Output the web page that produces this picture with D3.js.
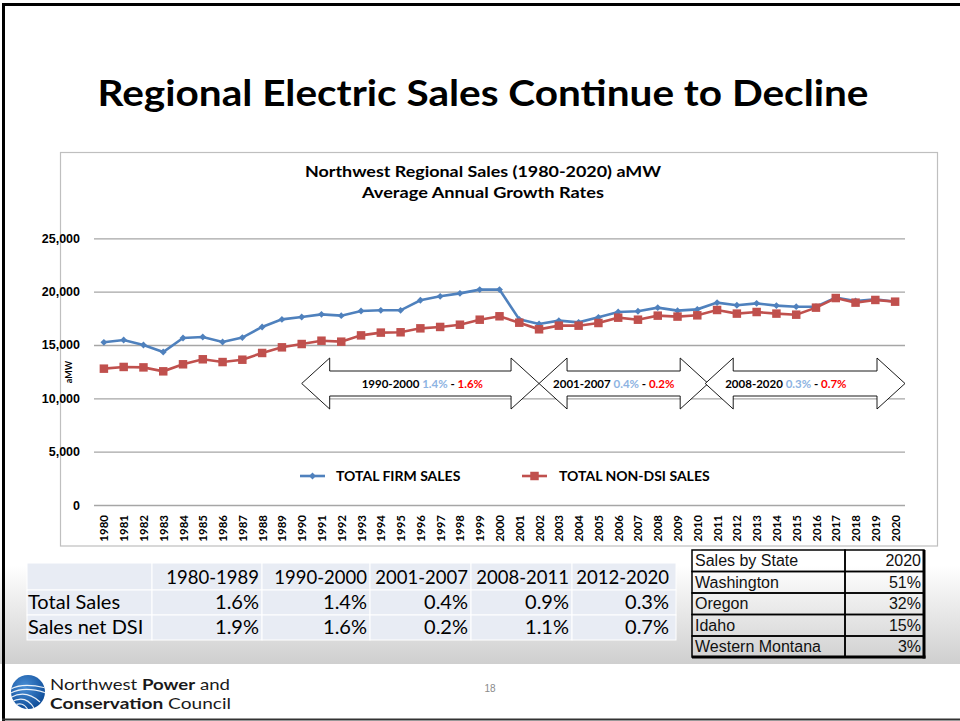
<!DOCTYPE html>
<html>
<head>
<meta charset="utf-8">
<script src="https://cdn.jsdelivr.net/npm/d3@7"></script>
<style>
  body { margin: 0; background: #fff; }
  svg { display: block; }
</style>
</head>
<body>
<div id="slide"></div>
<script>
// ---- data ----
var years = ["1980","1981","1982","1983","1984","1985","1986","1987","1988","1989",
             "1990","1991","1992","1993","1994","1995","1996","1997","1998","1999",
             "2000","2001","2002","2003","2004","2005","2006","2007","2008","2009",
             "2010","2011","2012","2013","2014","2015","2016","2017","2018","2019","2020"];

var firmSales = [15250,15470,15000,14340,15650,15750,15280,15690,16690,17400,
                 17620,17870,17750,18190,18250,18250,19190,19560,19840,20190,
                 20190,17400,16970,17280,17120,17590,18090,18160,18500,18220,
                 18340,18970,18720,18900,18690,18590,18590,19440,19120,19280,19060];

var nonDsiSales = [12780,12940,12900,12530,13190,13660,13400,13620,14250,14780,
                   15090,15400,15310,15900,16160,16190,16560,16690,16900,17370,
                   17690,17090,16470,16810,16810,17060,17560,17370,17750,17660,
                   17780,18280,17940,18090,17940,17840,18500,19400,18970,19220,19060];

var yTicks = [0, 5000, 10000, 15000, 20000, 25000];
var seriesNames = ["TOTAL FIRM SALES", "TOTAL NON-DSI SALES"];

// growth-rate arrows
var periodLabels = ["1990-2000", "2001-2007", "2008-2020"];
var periodFirm = ["1.4%", "0.4%", "0.3%"];
var periodNet = ["1.6%", "0.2%", "0.7%"];
var periodFrom = [1990, 2002, 2010.4];
var periodTo = [2002, 2010.55, 2020.5];

// bottom-left table
var growthCols = ["1980-1989", "1990-2000", "2001-2007", "2008-2011", "2012-2020"];
var growthRows = ["Total Sales", "Sales net DSI"];
var totalGrowth = ["1.6%", "1.4%", "0.4%", "0.9%", "0.3%"];
var netGrowth = ["1.9%", "1.6%", "0.2%", "1.1%", "0.7%"];

// bottom-right table
var stateHeader = ["Sales by State", "2020"];
var states = ["Washington", "Oregon", "Idaho", "Western Montana"];
var stateShare = ["51%", "32%", "15%", "3%"];

// ---- layout ----
var W = 960, H = 721;
var blue = "#4F81BD", red = "#C0504D";
var calibri = "Lato, 'Open Sans', sans-serif";
var arial = "'Liberation Sans', Arial, sans-serif";

var svg = d3.select("#slide").append("svg")
    .attr("width", W)
    .attr("height", H);

var defs = svg.append("defs");
var bg = defs.append("linearGradient").attr("id", "bottomFade")
    .attr("x1", 0).attr("y1", 0).attr("x2", 0).attr("y2", 1);
bg.append("stop").attr("offset", "0%").attr("stop-color", "#ffffff");
bg.append("stop").attr("offset", "100%").attr("stop-color", "#cfcfcf");

var logoGrad = defs.append("radialGradient").attr("id", "logoGrad")
    .attr("cx", "40%").attr("cy", "35%").attr("r", "70%");
logoGrad.append("stop").attr("offset", "0%").attr("stop-color", "#4a8fd6");
logoGrad.append("stop").attr("offset", "100%").attr("stop-color", "#0c4a96");

defs.append("clipPath").attr("id", "logoClip")
  .append("circle").attr("cx", 28).attr("cy", 692).attr("r", 17);

// slide background
svg.append("rect").attr("width", W).attr("height", H).attr("fill", "#fff");
svg.append("rect")
    .attr("x", 0).attr("y", 565).attr("width", W).attr("height", 99)
    .attr("fill", "url(#bottomFade)");

// slide title
svg.append("text")
    .attr("x", 483).attr("y", 106)
    .attr("text-anchor", "middle")
    .attr("textLength", 771).attr("lengthAdjust", "spacingAndGlyphs")
    .style("font-family", calibri).style("font-weight", 700).style("font-size", "36px")
    .text("Regional Electric Sales Continue to Decline");

// chart frame
svg.append("rect")
    .attr("x", 60.5).attr("y", 152.5).attr("width", 877).attr("height", 393.5)
    .attr("fill", "#fff").attr("stroke", "#bfbfbf").attr("stroke-width", 1.2);

svg.append("text")
    .attr("x", 483).attr("y", 177).attr("text-anchor", "middle")
    .attr("textLength", 356).attr("lengthAdjust", "spacingAndGlyphs")
    .style("font-family", calibri).style("font-weight", 700).style("font-size", "15px")
    .text("Northwest Regional Sales (1980-2020) aMW");
svg.append("text")
    .attr("x", 483).attr("y", 198).attr("text-anchor", "middle")
    .attr("textLength", 242).attr("lengthAdjust", "spacingAndGlyphs")
    .style("font-family", calibri).style("font-weight", 700).style("font-size", "15px")
    .text("Average Annual Growth Rates");

// scales
var x = d3.scalePoint().domain(years).range([94, 905]).padding(0.5);
var xYear = d3.scaleLinear()
    .domain([+years[0], +years[years.length - 1]])
    .range([x(years[0]), x(years[years.length - 1])]);
var y = d3.scaleLinear().domain([0, 25000]).range([505, 238.3]);

// y axis + gridlines
var gy = svg.append("g")
    .attr("transform", "translate(94,0)")
    .call(d3.axisLeft(y).tickValues(yTicks).tickSize(-811).tickFormat(d3.format(",")));
gy.select(".domain").remove();
gy.selectAll(".tick line").attr("stroke", "#a6a6a6").attr("stroke-width", 1.3);
gy.selectAll(".tick text")
    .attr("x", -14)
    .style("font-family", arial).style("font-weight", 700).style("font-size", "12.5px")
    .attr("fill", "#000");

svg.append("text")
    .attr("transform", "translate(72,372) rotate(-90)")
    .attr("text-anchor", "middle")
    .style("font-family", calibri).style("font-weight", 700).style("font-size", "9px")
    .text("aMW");

// x axis (years, rotated)
var gx = svg.append("g")
    .attr("transform", "translate(0,505)")
    .call(d3.axisBottom(x).tickSize(0));
gx.select(".domain").remove();
gx.selectAll(".tick text")
    .attr("transform", "rotate(-90)")
    .attr("x", -10).attr("y", 0).attr("dy", "0.35em")
    .attr("text-anchor", "end")
    .style("font-family", calibri).style("font-weight", 700).style("font-size", "11.5px")
    .attr("fill", "#000");

// growth arrows
var headLen = 28, shaftHalf = 12.5, headHalf = 25.5, yc = 383.5;
var arrowTextDx = [60, 14, 20];
function arrowPath(a, b) {
  return "M" + a + "," + yc +
    "L" + (a + headLen) + "," + (yc - headHalf) +
    "L" + (a + headLen) + "," + (yc - shaftHalf) +
    "L" + (b - headLen) + "," + (yc - shaftHalf) +
    "L" + (b - headLen) + "," + (yc - headHalf) +
    "L" + b + "," + yc +
    "L" + (b - headLen) + "," + (yc + headHalf) +
    "L" + (b - headLen) + "," + (yc + shaftHalf) +
    "L" + (a + headLen) + "," + (yc + shaftHalf) +
    "L" + (a + headLen) + "," + (yc + headHalf) + "Z";
}
var arrows = svg.append("g").selectAll("g")
  .data(periodLabels)
  .enter().append("g");
arrows.append("path")
    .attr("d", function(d, i) { return arrowPath(xYear(periodFrom[i]), xYear(periodTo[i])); })
    .attr("fill", "#fff").attr("stroke", "#000").attr("stroke-width", 0.9);
var at = arrows.append("text")
    .attr("x", function(d, i) { return xYear(periodFrom[i]) + arrowTextDx[i]; })
    .attr("y", yc + 4)
    .style("font-family", calibri).style("font-weight", 700).style("font-size", "11.5px");
at.append("tspan").attr("fill", "#000").text(function(d) { return d + " "; });
at.append("tspan").attr("fill", "#8DB3E2").text(function(d, i) { return periodFirm[i]; });
at.append("tspan").attr("fill", "#000").text(" - ");
at.append("tspan").attr("fill", "#FF0000").text(function(d, i) { return periodNet[i]; });

// lines
var line = d3.line()
    .x(function(d, i) { return x(years[i]); })
    .y(function(d) { return y(d); });

svg.append("path").datum(firmSales)
    .attr("d", line).attr("fill", "none")
    .attr("stroke", blue).attr("stroke-width", 2.6);
svg.append("g").selectAll("path")
  .data(firmSales).enter().append("path")
    .attr("transform", function(d, i) { return "translate(" + x(years[i]) + "," + y(d) + ")"; })
    .attr("d", d3.symbol(d3.symbolDiamond2, 30))
    .attr("fill", blue);

svg.append("path").datum(nonDsiSales)
    .attr("d", line).attr("fill", "none")
    .attr("stroke", red).attr("stroke-width", 2.6);
svg.append("g").selectAll("path")
  .data(nonDsiSales).enter().append("path")
    .attr("transform", function(d, i) { return "translate(" + x(years[i]) + "," + y(d) + ")"; })
    .attr("d", d3.symbol(d3.symbolSquare, 72))
    .attr("fill", red);

// legend
var legendX = [300, 522];
var legend = svg.append("g").selectAll("g")
  .data(seriesNames).enter().append("g")
    .attr("transform", function(d, i) { return "translate(" + legendX[i] + ",476)"; });
legend.append("line")
    .attr("x1", 0).attr("x2", 25)
    .attr("stroke", function(d, i) { return i ? red : blue; }).attr("stroke-width", 2.6);
legend.append("path")
    .attr("transform", "translate(12.5,0)")
    .attr("d", function(d, i) { return d3.symbol(i ? d3.symbolSquare : d3.symbolDiamond2, i ? 72 : 30)(); })
    .attr("fill", function(d, i) { return i ? red : blue; });
legend.append("text")
    .attr("x", function(d, i) { return i ? 37 : 36; }).attr("y", 5)
    .style("font-family", calibri).style("font-weight", 700).style("font-size", "14px")
    .text(function(d) { return d; });

// growth table (bottom left)
var colEdges = [27, 152, 262, 370, 471, 572, 676];
var rowEdges = [563, 590, 615, 640];
var tableRows = [[""].concat(growthCols), [growthRows[0]].concat(totalGrowth), [growthRows[1]].concat(netGrowth)];
var tg = svg.append("g");
tableRows.forEach(function(row, r) {
  row.forEach(function(cell, c) {
    tg.append("rect")
        .attr("x", colEdges[c]).attr("y", rowEdges[r])
        .attr("width", colEdges[c + 1] - colEdges[c]).attr("height", rowEdges[r + 1] - rowEdges[r])
        .attr("fill", "#E8ECF4").attr("stroke", "#fff").attr("stroke-width", 1);
  });
});
tableRows.forEach(function(row, r) {
  row.forEach(function(cell, c) {
    tg.append("text")
        .attr("x", c === 0 ? colEdges[0] + 1 : colEdges[c + 1] - (c === 5 ? 7 : 3))
        .attr("y", rowEdges[r + 1] - 6)
        .attr("text-anchor", c === 0 ? "start" : "end")
        .style("font-family", calibri).style("font-size", r === 0 ? "18.5px" : "20px")
        .attr("fill", "#000")
        .text(cell);
  });
});

// sales by state (bottom right)
var sColEdges = [692, 845, 924];
var sRowEdges = [550, 571.5, 593, 614.5, 636, 657];
var stateRows = [stateHeader].concat(states.map(function(s, i) { return [s, stateShare[i]]; }));
var sg = svg.append("g");
stateRows.forEach(function(row, r) {
  row.forEach(function(cell, c) {
    sg.append("rect")
        .attr("x", sColEdges[c]).attr("y", sRowEdges[r])
        .attr("width", sColEdges[c + 1] - sColEdges[c]).attr("height", sRowEdges[r + 1] - sRowEdges[r])
        .attr("fill", "none").attr("stroke", "#000").attr("stroke-width", 1.5);
    sg.append("text")
        .attr("x", c === 0 ? sColEdges[0] + 3 : sColEdges[2] - 3)
        .attr("y", sRowEdges[r] + 16)
        .attr("text-anchor", c === 0 ? "start" : "end")
        .style("font-family", arial).style("font-size", "16px")
        .attr("fill", "#111")
        .text(cell);
  });
});
sg.append("line").attr("x1", sColEdges[2]).attr("x2", sColEdges[2])
    .attr("y1", sRowEdges[0]).attr("y2", sRowEdges[5] + 1.5)
    .attr("stroke", "#000").attr("stroke-width", 3);
sg.append("line").attr("x1", sColEdges[0]).attr("x2", sColEdges[2] + 1.5)
    .attr("y1", sRowEdges[5]).attr("y2", sRowEdges[5])
    .attr("stroke", "#000").attr("stroke-width", 3);

// footer band + logo
svg.append("rect").attr("x", 0).attr("y", 664).attr("width", W).attr("height", 57).attr("fill", "#fff");

var logo = svg.append("g");
logo.append("circle").attr("cx", 28).attr("cy", 692).attr("r", 17).attr("fill", "url(#logoGrad)");
var waves = logo.append("g").attr("clip-path", "url(#logoClip)")
    .attr("fill", "none").attr("stroke", "#fff").attr("stroke-width", 1.2).attr("opacity", 0.9);
["M9,690 C18,684 30,684 46,688",
 "M9,694 C19,688 31,688 46,693",
 "M10,698 C20,692 30,693 40,702",
 "M11,702 C20,697 28,698 34,708",
 "M13,706 C20,702 25,704 28,710"].forEach(function(p) {
  waves.append("path").attr("d", p);
});

var f1 = svg.append("text").attr("x", 50).attr("y", 690)
    .attr("textLength", 180).attr("lengthAdjust", "spacingAndGlyphs")
    .style("font-family", calibri).style("font-size", "16px").attr("fill", "#1a1a1a");
f1.append("tspan").text("Northwest ");
f1.append("tspan").style("font-weight", 700).text("Power");
f1.append("tspan").text(" and");
var f2 = svg.append("text").attr("x", 50).attr("y", 709)
    .attr("textLength", 181).attr("lengthAdjust", "spacingAndGlyphs")
    .style("font-family", calibri).style("font-size", "16px").attr("fill", "#1a1a1a");
f2.append("tspan").style("font-weight", 700).text("Conservation");
f2.append("tspan").text(" Council");

svg.append("text").attr("x", 490).attr("y", 692).attr("text-anchor", "middle")
    .style("font-family", arial).style("font-size", "10px").attr("fill", "#8a8a8a")
    .text("18");

// slide border
svg.append("line").attr("x1", 2).attr("x2", W).attr("y1", 4.5).attr("y2", 4.5)
    .attr("stroke", "#000").attr("stroke-width", 3);
svg.append("line").attr("x1", 3.5).attr("x2", 3.5).attr("y1", 3).attr("y2", H)
    .attr("stroke", "#000").attr("stroke-width", 3);
svg.append("line").attr("x1", 2).attr("x2", W).attr("y1", 719.5).attr("y2", 719.5)
    .attr("stroke", "#333").attr("stroke-width", 2);
</script>
</body>
</html>
